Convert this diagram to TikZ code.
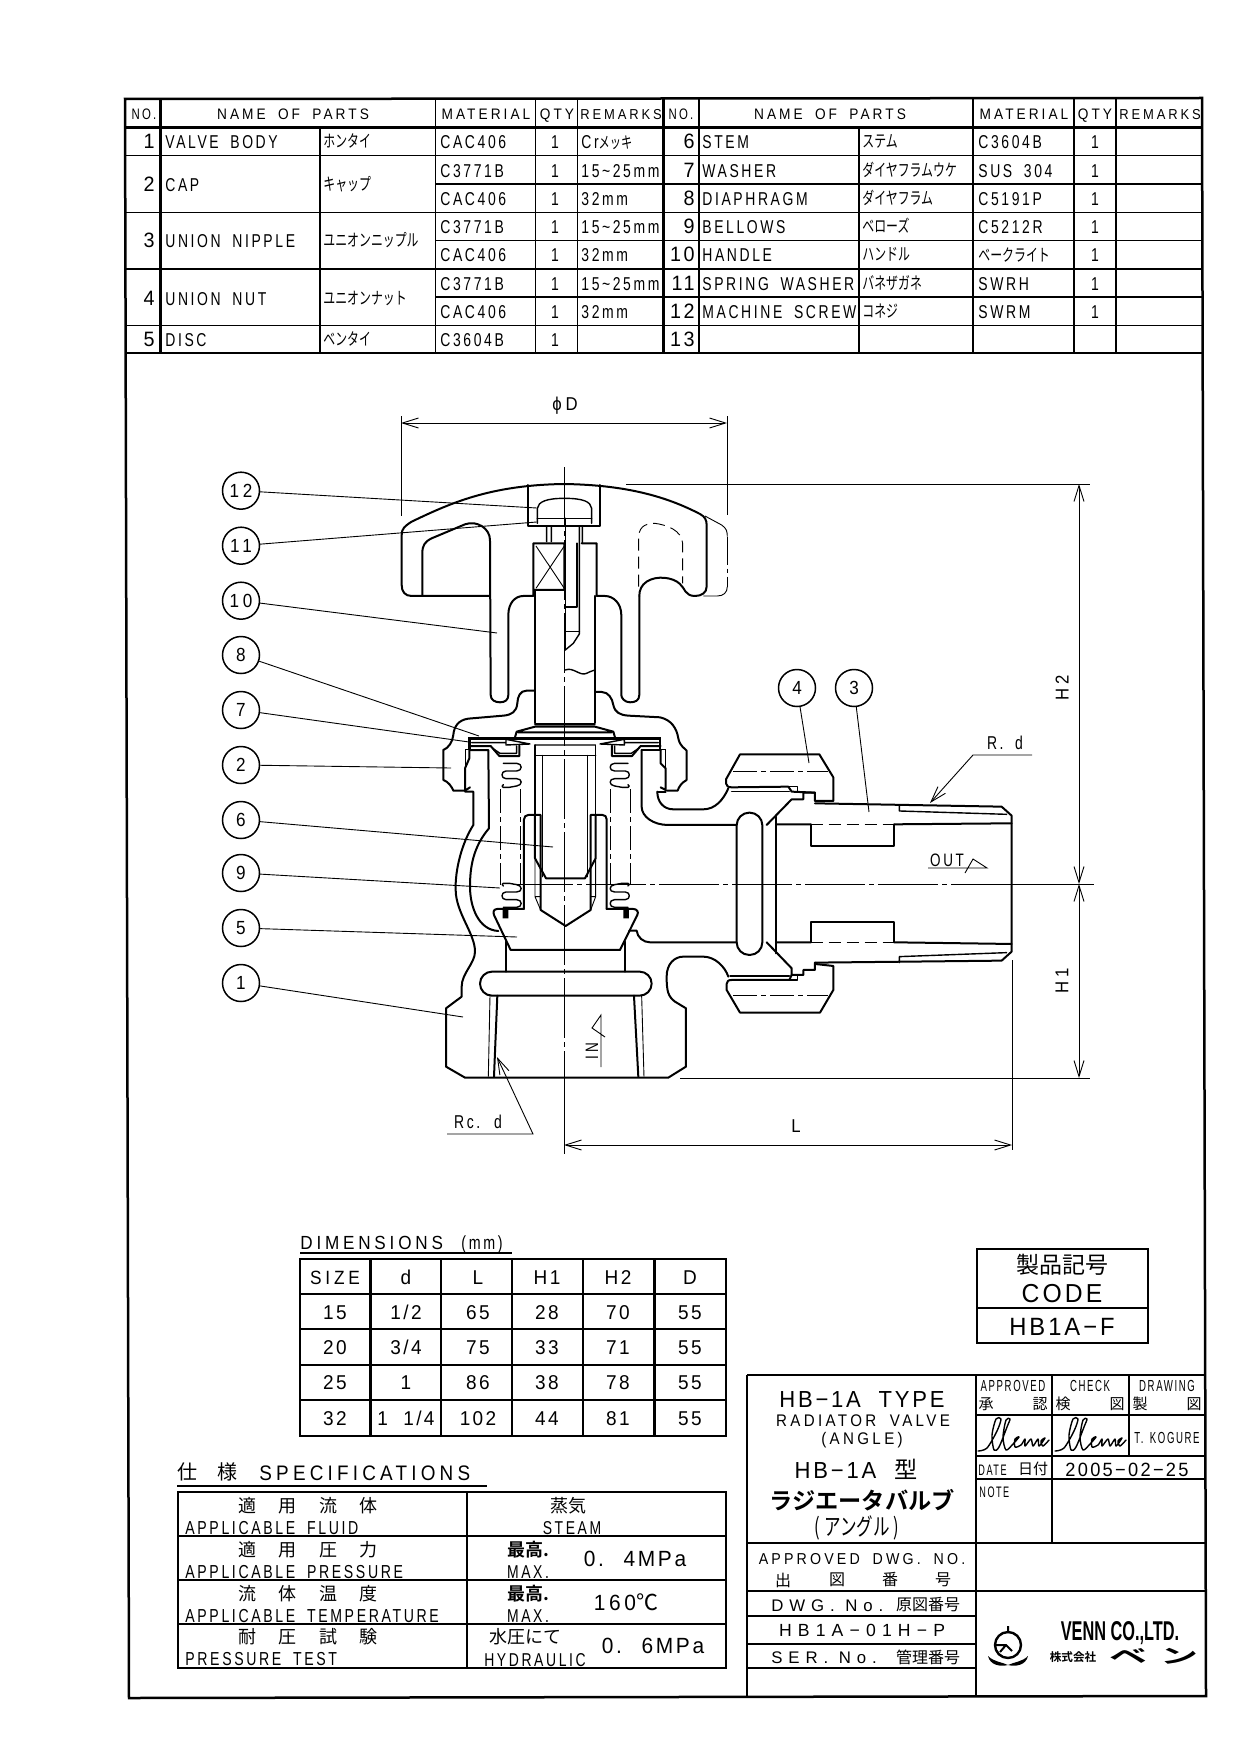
\documentclass[tikz,border=0pt]{standalone}
\usepackage{fontspec}
\usetikzlibrary{arrows.meta}
\setmainfont{Liberation Sans}
\newfontfamily\gt[FakeStretch=0.75,LetterSpace=14,WordSpace=1.8]{Liberation Sans}
\newfontfamily\gtn[FakeStretch=0.6,LetterSpace=10,WordSpace=1.5]{Liberation Sans}
\newfontfamily\gth[FakeStretch=0.9,LetterSpace=20,WordSpace=1.8]{Liberation Sans}
\newfontfamily\gtb[FakeStretch=0.95,LetterSpace=12,WordSpace=2]{Liberation Sans}
\newfontfamily\gtx[LetterSpace=35]{Liberation Sans}
\newfontfamily\gtlogo[FakeStretch=0.6]{Liberation Sans Bold}
\newfontfamily\jp{Noto Sans CJK JP}
\newfontfamily\jpb{Noto Sans CJK JP Bold}
\newfontfamily\jpn[FakeStretch=0.7]{Noto Sans CJK JP}
\newfontfamily\jpw[FakeStretch=1.9]{Noto Sans CJK JP Bold}
\newcommand{\fs}[1]{\fontsize{#1}{#1}\selectfont}
\tikzset{
  hvy/.style={line width=1pt,line cap=round,line join=round},
  mid/.style={line width=0.7pt,line cap=round,line join=round},
  thn/.style={line width=0.45pt},
  ctr/.style={line width=0.45pt,dash pattern=on 30pt off 2pt on 2.5pt off 2pt},
  ctrs/.style={line width=0.45pt,dash pattern=on 12pt off 2pt on 2.5pt off 2pt},
  hid/.style={line width=0.45pt,dash pattern=on 6pt off 3pt},
  tblo/.style={line width=1.25pt},
  tbli/.style={line width=0.7pt},
  dimn/.style={line width=0.45pt,>={Straight Barb[length=8pt,width=5pt]}},
  lbl/.style={inner sep=0pt,anchor=base west,font=\gt\fs{9.3}},
  lblc/.style={inner sep=0pt,anchor=base,font=\gt\fs{9.3}},
  lno/.style={inner sep=0pt,anchor=base east,font=\gtb\fs{10.4}},
  head/.style={inner sep=0pt,anchor=base,font=\gth\fs{7.6}},
  kana/.style={inner sep=0pt,anchor=base west,font=\jpn\fs{8.5}},
  kanji/.style={inner sep=0pt,font=\jp\fs{8}},
  cell/.style={inner sep=0pt,anchor=base,font=\gtb\fs{10}},
  big/.style={inner sep=0pt,anchor=base,font=\gth\fs{8.6}},
  callout/.style={draw,circle,line width=0.75pt,minimum size=18.5pt,inner sep=0pt,font=\gth\fs{9.5}},
  coil/.pic={
    \draw[mid] (0,0) -- (40,0) .. controls (58,0) and (58,23) .. (40,23) -- (8,23)
      .. controls (-8,23) and (-8,46) .. (8,46) -- (40,46) .. controls (58,46) and (58,66) .. (40,68)
      -- (18,72) -- (0,72) .. controls (-5,72) and (-5,66) .. (0,64);
  },
  signat/.pic={
    \draw[mid] plot[smooth] coordinates {(1,34)(10,31)(20,14)(24,2)(19,2)(15,18)(17,33)(22,30)(30,10)(33,2)(29,3)(26,20)(29,33)(36,27)(42,20)(38,22)(38,30)(44,28)(48,22)(48,29)(54,22)(56,29)(61,22)(62,29)(68,21)(64,24)(66,29)(72,23)};
  },
}
\begin{document}
\begin{tikzpicture}[x=0.5pt,y=-0.5pt]
\useasboundingbox (0,0) rectangle (1241,1755);
% frame and parts list
\draw[tblo] (125,99) -- (1202,98) -- (1206,1696) -- (129,1698) -- cycle;
\draw[tblo] (125,127.7) -- (1202,127.7);
\draw[tblo] (125,353) -- (1202,353);
\foreach \x in {160.5,663.7,699} \draw[tblo] (\x,99) -- (\x,353);
\foreach \x in {435.6,535.5,577.6,973,1074,1116} \draw[tbli] (\x,99) -- (\x,353);
\foreach \x in {320,859} \draw[tbli] (\x,127.7) -- (\x,353);
\foreach \y in {155.7,212.3,269,325.7} \draw[tbli] (125,\y) -- (1202,\y);
\foreach \y in {184,240.7,297} {
  \draw[tbli] (435.6,\y) -- (663.7,\y);
  \draw[tbli] (663.7,\y) -- (1202,\y);
}
% headers
\foreach \x/\t [count=\i] in {144/{\gt\fs{7.6}NO.},293/NAME OF PARTS,486/MATERIAL,557/QTY,621/{\fs{7.2}REMARKS},681/{\gt\fs{7.6}NO.},830/NAME OF PARTS,1024/MATERIAL,1095/QTY,1160/{\fs{7.2}REMARKS}}
  \node[head] (hd\i) at (\x,119.5) {\t};
% left half of the list
\foreach \no/\y/\nam/\kn in {1/149/VALVE BODY/ホンタイ,2/192/CAP/キャップ,3/248/UNION NIPPLE/ユニオンニップル,4/305/UNION NUT/ユニオンナット,5/346.7/DISC/ベンタイ} {
  \node[lno] (no\no) at (155,\y) {\no};
  \node[lbl] (nam\no) at (165,\y) {\nam};
  \node[kana] (kn\no) at (323,\y-1) {\kn};
}
\foreach \y/\mat/\qty/\rem [count=\i] in {149/CAC406/1/{Cr\jpn\fs{8}メッキ},177.3/C3771B/1/15\textasciitilde 25mm,205.7/CAC406/1/32mm,234/C3771B/1/15\textasciitilde 25mm,262/CAC406/1/32mm,290.7/C3771B/1/15\textasciitilde 25mm,318.7/CAC406/1/32mm,346.7/C3604B/1/{}} {
  \node[lbl] (mat\i) at (440,\y) {\mat};
  \node[lblc] (qty\i) at (555,\y) {\qty};
  \node[lbl] (rem\i) at (581,\y) {\rem};
}
% right half of the list
\foreach \no/\y/\nam/\kn/\mat [count=\i] in {6/149/STEM/ステム/C3604B,7/177.3/WASHER/ダイヤフラムウケ/SUS 304,8/205.7/DIAPHRAGM/ダイヤフラム/C5191P,9/234/BELLOWS/ベローズ/C5212R,10/262/HANDLE/ハンドル/{\jpn\fs{8.5}ベークライト},11/290.7/SPRING WASHER/バネザガネ/SWRH,12/318.7/MACHINE SCREW/コネジ/SWRM} {
  \node[lno] (no\no) at (695,\y) {\no};
  \node[lbl] (nam\no) at (702,\y) {\nam};
  \node[kana] (kn\no) at (862,\y-1) {\kn};
  \node[lbl] (matr\i) at (978,\y) {\mat};
  \node[lblc] (qtyr\i) at (1095,\y) {1};
}
\node[lno] (no13) at (695,346.7) {13};
% handle and stem
\begin{scope}[shift={(380,440)},scale=0.3333]
\draw[hvy] (330,468) -- (95,468) .. controls (75,468) and (65,455) .. (65,435) -- (65,285) .. controls (65,265) and (75,258) .. (95,245) .. controls (210,190) and (330,135) .. (553,132) .. controls (740,135) and (860,170) .. (960,222) .. controls (975,230) and (980,240) .. (980,255) -- (980,440) .. controls (980,458) and (965,468) .. (945,468) .. controls (915,468) and (915,445) .. (900,432) .. controls (880,412) and (830,405) .. (800,425) .. controls (785,435) and (778,450) .. (778,468);
\draw[hvy] (778,468) -- (778,765) .. controls (778,782) and (765,787) .. (750,787) .. controls (735,787) and (724,775) .. (724,765) -- (724,525) .. controls (724,490) and (700,468) .. (675,468) -- (650,468) -- (650,310) -- (605,310);
\draw[hvy] (127,468) -- (127,340) .. controls (127,315) and (135,305) .. (155,295) -- (255,253) .. controls (290,240) and (330,265) .. (330,300) -- (332,765) .. controls (332,780) and (345,787) .. (360,787) .. controls (375,787) and (385,780) .. (385,765) -- (385,525) .. controls (385,490) and (405,468) .. (430,468) -- (460,468) -- (460,310) -- (553,310) -- (553,450) -- (460,450);
\draw[thn] (468,318) -- (553,445) (553,318) -- (468,445);
\draw[hvy] (466,450) -- (466,848) (645,468) -- (645,848) (590,310) -- (590,500) -- (556,500);
\draw[hvy] (445,135) -- (445,257) -- (660,257) -- (660,135);
\draw[mid] (472,250) -- (472,205) .. controls (475,185) and (500,175) .. (553,175) .. controls (610,175) and (632,185) .. (635,205) -- (635,250);
\draw[mid] (472,236) -- (635,236);
\draw[mid] (500,258) -- (500,305) (514,258) -- (514,305) (598,258) -- (598,575) -- (598,582) -- (580,610) -- (556,630) (607,258) -- (607,310);
\draw[mid] (556,235) -- (556,630) (556,575) -- (598,575);
\draw[mid] (556,690) .. controls (580,680) and (600,710) .. (620,700) .. controls (630,695) and (638,692) .. (645,690);
% ghost of the handle
\draw[thn] (975,228) -- (1025,255) .. controls (1040,265) and (1042,275) .. (1042,290);
\draw[thn,dash pattern=on 14pt off 2pt on 2pt off 2pt] (1042,290) -- (1042,440);
\draw[thn] (1042,440) .. controls (1042,458) and (1030,468) .. (1012,468) -- (970,468);
\draw[hid] (776,440) -- (776,295) .. controls (776,265) and (790,250) .. (825,250) .. controls (860,255) and (905,270) .. (908,310) -- (908,430);
% cap
\draw[hvy] (463,752) -- (440,752) .. controls (420,752) and (413,770) .. (412,790) .. controls (410,815) and (395,825) .. (370,827) -- (265,836) .. controls (235,840) and (222,860) .. (220,885) .. controls (218,905) and (205,925) .. (190,930) -- (190,1020) .. controls (205,1025) and (215,1040) .. (220,1052) -- (252,1052);
\draw[hvy] (648,756) -- (665,756) .. controls (685,756) and (697,775) .. (700,795) .. controls (705,818) and (720,825) .. (745,827) -- (840,832) .. controls (875,840) and (890,865) .. (895,895) .. controls (900,920) and (915,925) .. (920,932) -- (920,1020) .. controls (905,1028) and (897,1040) .. (893,1052) -- (860,1052);
\end{scope}
% body, disc and bellows
\begin{scope}[shift={(420,700)},scale=0.3333]
\draw[hvy] (345,72) -- (525,72) (345,80) -- (525,80) (345,80) -- (290,95) -- (285,112) (525,80) -- (580,95) -- (585,112) (295,97) -- (575,97);
\draw[tbli] (298,113) -- (575,113);
\draw[line width=1.2pt] (148,150) -- (148,115) -- (720,115) -- (720,150);
\draw[mid] (155,128) -- (258,128) (613,128) -- (715,128) (258,118) -- (258,135) -- (330,132) -- (258,118) (613,118) -- (613,135) -- (540,132) -- (613,118) (345,135) -- (525,135);
\draw[hvy] (152,138) -- (212,138) -- (238,168) -- (298,168) -- (298,137);
\draw[mid] (218,145) -- (240,160) -- (290,160) -- (290,138);
\draw[hvy] (722,138) -- (662,138) -- (636,168) -- (576,168) -- (576,137);
\draw[mid] (656,145) -- (634,160) -- (584,160) -- (584,138);
\foreach \x/\y/\sx/\sy in {250/190/1/1,624/190/-1/1,250/622/1/-1,624/622/-1/-1}
  \pic[transform shape,xscale=\sx,yscale=\sy] at (\x,\y) {coil};
\foreach \x in {240,302,570,632} \draw[ctrs] (\x,268) -- (\x,555);
% cap collars
\draw[thn] (135,148) -- (150,148) (135,148) -- (135,205) (722,148) -- (737,148) -- (737,205);
\draw[hvy] (148,150) -- (148,175) -- (135,205) -- (135,272) -- (150,262) (722,150) -- (722,190) -- (737,205) -- (737,270) -- (722,262);
\draw[hvy] (150,150) -- (205,150) -- (207,385) .. controls (160,440) and (150,500) .. (150,560) .. controls (150,620) and (175,690) .. (235,693);
\draw[hvy] (665,150) -- (722,150);
% body outline
\draw[hvy] (135,275) -- (160,275) -- (160,375) .. controls (125,430) and (105,510) .. (107,570) .. controls (108,640) and (165,700) .. (165,755) .. controls (165,790) and (125,820) .. (125,860) -- (125,890) -- (78,925) -- (78,1100) -- (135,1133) -- (745,1133) -- (798,1100) -- (798,925) -- (765,905) .. controls (745,890) and (740,875) .. (740,830) .. controls (740,790) and (765,770) .. (790,770) -- (850,770) .. controls (885,770) and (915,800) .. (925,830);
% valve seat and bore
\draw[hvy,rounded corners=6pt] (180,815) rectangle (695,887);
\draw[hvy] (258,725) -- (258,815) (615,725) -- (615,815);
\draw[thn] (210,887) -- (205,1130) (665,887) -- (672,1130);
\draw[hvy] (232,887) -- (222,1130) (642,887) -- (655,1130);
% stem and disc
\draw[mid] (345,135) -- (345,345) (527,135) -- (527,345) (345,167) -- (527,167);
\draw[mid] (368,167) -- (368,530) (503,167) -- (503,530);
\draw[hvy] (345,345) -- (345,475) -- (378,535) -- (495,535) -- (527,475) -- (527,345);
\draw[hvy] (312,627) -- (312,358) .. controls (312,350) and (318,345) .. (325,345) -- (362,345) -- (362,630) -- (437,678) -- (512,630) -- (512,345) -- (548,345) .. controls (555,345) and (560,350) .. (560,358) -- (560,627);
\draw[thn] (345,480) -- (345,590) -- (362,630) (527,480) -- (527,590) -- (512,630) (345,590) -- (362,590) (527,590) -- (512,590);
\draw[hvy] (312,627) -- (232,627) .. controls (222,627) and (218,635) .. (222,645) -- (272,750) -- (600,750) -- (652,645) .. controls (657,635) and (650,627) .. (640,627) -- (560,627);
\fill (248,628) rectangle (265,655) (610,628) rectangle (627,655);
% elbow
\draw[hvy] (665,150) -- (665,320) .. controls (665,350) and (700,375) .. (745,375) -- (950,375);
\draw[hvy] (712,275) .. controls (712,305) and (730,328) .. (760,328) -- (850,328) .. controls (885,328) and (910,300) .. (925,265);
\draw[hvy] (712,275) -- (737,275);
\draw[hvy] (628,692) -- (650,692) .. controls (652,712) and (670,727) .. (690,727) -- (950,727);
\end{scope}
% union nut and nipple
\begin{scope}[shift={(700,640)},scale=0.3333]
\draw[hvy] (120,343) -- (358,343) -- (400,412) -- (400,483) -- (345,483) (120,343) -- (78,418) -- (78,430) .. controls (78,438) and (85,442) .. (95,442) -- (265,440) -- (275,455) -- (345,458);
\draw[mid] (95,455) -- (268,455) (265,440) -- (292,440) -- (292,455);
\draw[hvy] (345,483) -- (345,458) -- (310,458) -- (310,478) -- (275,478) -- (200,555);
\draw[hvy] (120,1118) -- (360,1118) -- (400,1050) -- (400,978) -- (345,972) (120,1118) -- (80,1050) -- (80,1032) .. controls (80,1024) and (85,1020) .. (95,1020) -- (268,1020) -- (275,1005);
\draw[mid] (90,1008) -- (268,1008) (268,1020) -- (292,1020) -- (292,1005);
\draw[hvy] (200,907) -- (275,985) -- (275,1005) -- (310,1005) -- (310,990) -- (345,990) -- (345,968);
\draw[hvy,rounded corners=6.3pt] (110,518) rectangle (187,945);
\draw[hvy] (228,530) -- (228,940);
\draw[hvy] (345,490) -- (905,500) -- (935,527) -- (935,935) -- (905,962) -- (345,968);
\draw[hvy] (228,553) -- (332,553) (583,553) -- (935,550) (228,907) -- (332,907) (583,907) -- (935,912);
\draw[hid] (332,553) -- (583,553) (332,907) -- (583,907);
\draw[hvy] (332,553) -- (332,617) -- (583,617) -- (583,553) (332,907) -- (332,845) -- (583,845) -- (583,907);
\draw[mid] (598,495) -- (598,513) -- (920,523) (598,968) -- (598,950) -- (920,938);
\draw[ctrs] (100,395) -- (385,395);
\draw[ctrs] (100,1067) -- (385,1067);
\end{scope}
% centre lines
\draw[ctr] (564,467) -- (564,1078);
\draw[thn] (564,1078) -- (564,1154);
\draw[ctr] (513,884) -- (1012,884);
\draw[thn] (1012,884) -- (1094,884);
% dimensions
\draw[thn] (401,416) -- (401,516) (727,416) -- (727,515);
\draw[dimn,<->] (401,423) -- (727,423);
\node[inner sep=0pt,font=\gth\fs{9.3}] (dimD) at (565,406) {ϕD};
\draw[thn] (626,484) -- (1090,484) (680,1078) -- (1090,1078) (1012,960) -- (1012,1150);
\draw[dimn,<->] (1079,484) -- (1079,884);
\draw[dimn,<->] (1079,884) -- (1079,1078);
\draw[dimn,<->] (564,1145) -- (1012,1145);
\node[inner sep=0pt,rotate=90,font=\gth\fs{9.3}] (dimH2) at (1062,688) {H2};
\node[inner sep=0pt,rotate=90,font=\gth\fs{9.3}] (dimH1) at (1062,981) {H1};
\node[inner sep=0pt,font=\gth\fs{9.3}] (dimL) at (796,1126) {L};
\coordinate (rca) at (447,1134);
\coordinate (rcb) at (533,1134);
\coordinate (rcc) at (497,1057);
\draw[dimn,->] (rca) -- (rcb) -- (rcc);
\node[inner sep=0pt,font=\gt\fs{9.3}] (rctext) at (478,1122) {Rc. d};
\coordinate (rda) at (1032,755);
\coordinate (rdb) at (973,755);
\coordinate (rdc) at (930,803);
\draw[dimn,->] (rda) -- (rdb) -- (rdc);
\node[inner sep=0pt,font=\gt\fs{9.3}] (rdtext) at (1005,743) {R. d};
\node[inner sep=0pt,anchor=base,font=\gt\fs{9}] (outtxt) at (947,866) {OUT};
\draw[thn] (928,868) -- (965,868) -- (987,868) -- (973,859) -- (965,873);
\node[inner sep=0pt,rotate=90,anchor=base,font=\gt\fs{9}] (intxt) at (598,1051) {IN};
\draw[thn] (601,1067) -- (601,1015) -- (592,1028) -- (605,1037);
% callouts
\foreach \no/\y/\px/\py in {12/490.7/536.7/508,11/545.7/536.7/522,10/600.7/497/633,8/655/479/736,7/710/469/742,2/765/451/768,6/820/553/847,9/873/500/888,5/928/517/937,1/983/463/1017} {
  \node[callout] (ball\no) at (241,\y) {\no};
  \coordinate (tip\no) at (\px,\py);
  \draw[thn] (ball\no) -- (tip\no);
}
\foreach \no/\x/\px/\py in {4/797/809/763,3/854/869/812} {
  \node[callout] (ball\no) at (\x,688) {\no};
  \coordinate (tip\no) at (\px,\py);
  \draw[thn] (ball\no) -- (tip\no);
}
% dimensions table
\node[inner sep=0pt,anchor=base west,font=\gth\fs{9.5}] (dimtitle) at (300,1249) {DIMENSIONS};
\node[inner sep=0pt,anchor=base,font=\gt\fs{9.5}] (dimunit) at (482,1249) {(mm)};
\draw[tbli] (300,1253) -- (512,1253);
\draw[tblo] (300,1259) rectangle (726,1436);
\foreach \y in {1294,1329,1365,1400} \draw[tblo] (300,\y) -- (726,\y);
\foreach \x in {370.5,441,512,583,654.4} \draw[tblo] (\x,1259) -- (\x,1436);
\foreach \y/\a/\b/\c/\d/\e/\f [count=\i] in {1284/{\gth\fs{9.6}SIZE}/d/L/H1/H2/D,1319/15/{1/2}/65/28/70/55,1354/20/{3/4}/75/33/71/55,1389/25/1/86/38/78/55,1425/32/{1 1/4}/102/44/81/55} {
  \node[cell] (da\i) at (335,\y) {\a};
  \node[cell] (db\i) at (406,\y) {\b};
  \node[cell] (dc\i) at (478,\y) {\c};
  \node[cell] (dd\i) at (547,\y) {\d};
  \node[cell] (de\i) at (618,\y) {\e};
  \node[cell] (df\i) at (690,\y) {\f};
}
% specifications table
\node[kanji,font=\jp\fs{10}] (spa) at (187,1472) {仕};
\node[kanji,font=\jp\fs{10}] (spb) at (227,1472) {様};
\node[inner sep=0pt,anchor=base west,font=\gth\fs{10.5}] (sptitle) at (259,1480) {SPECIFICATIONS};
\draw[tbli] (177,1486) -- (487,1486);
\draw[tblo] (178,1492) rectangle (726,1668);
\draw[tblo] (467,1492) -- (467,1668);
\foreach \y in {1536,1580,1624} \draw[tblo] (178,\y) -- (726,\y);
\foreach \y/\a/\b/\c/\d/\e [count=\i] in {1506/適/用/流/体/APPLICABLE FLUID,1550/適/用/圧/力/APPLICABLE PRESSURE,1594/流/体/温/度/APPLICABLE TEMPERATURE,1637/耐/圧/試/験/PRESSURE TEST} {
  \node[kanji,font=\jp\fs{9}] (spa\i) at (247,\y) {\a};
  \node[kanji,font=\jp\fs{9}] (spb\i) at (287,\y) {\b};
  \node[kanji,font=\jp\fs{9}] (spc\i) at (328,\y) {\c};
  \node[kanji,font=\jp\fs{9}] (spd\i) at (368,\y) {\d};
  \node[lbl,font=\gt\fs{9.4}] (spe\i) at (185,\y+28) {\e};
}
\node[kanji,font=\jp\fs{9}] (fluidjp) at (568,1506) {蒸気};
\node[lblc] (fluiden) at (572,1534) {STEAM};
\foreach \y/\v/\x [count=\i] in {1550/{0. 4MPa}/635,1594/{1\,6\,0\jp ℃}/626} {
  \node[kanji,font=\jpb\fs{9}] (maxjp\i) at (528,\y) {最高.};
  \node[lblc] (maxen\i) at (528,\y+28) {MAX.};
  \node[cell,font=\gtb\fs{11}] (maxval\i) at (\x,\y+16) {\v};
}
\node[kanji,font=\jp\fs{9}] (hydrjp) at (525.5,1637) {水圧にて};
\node[lblc] (hydren) at (535,1666) {HYDRAULIC};
\node[cell,font=\gtb\fs{11}] (hydrval) at (653,1653) {0. 6MPa};
% code box
\draw[tblo] (977,1249) rectangle (1148,1343);
\draw[tblo] (977,1308) -- (1148,1308);
\node[kanji,font=\jp\fs{11.5}] (codejp) at (1062,1265) {製品記号};
\node[inner sep=0pt,anchor=base,font=\gtb\fs{13}] (codeen) at (1062,1302) {CODE};
\node[inner sep=0pt,anchor=base,font=\gtb\fs{12.5}] (codeval) at (1062,1335) {HB1A−F};
% title block
\draw[tblo] (747,1375) -- (1205,1375) (747,1375) -- (747,1697) (976,1375) -- (976,1697);
\draw[tblo] (747,1543) -- (1205,1543) (747,1591) -- (1205,1591);
\draw[tbli] (1052,1375) -- (1052,1543) (1129,1375) -- (1129,1456);
\draw[tbli] (976,1415) -- (1205,1415) (976,1456) -- (1205,1456) (976,1479) -- (1205,1479);
\draw[tbli] (747,1616) -- (976,1616) (747,1668) -- (976,1668);
\draw[tblo] (747,1644) -- (976,1644);
\node[inner sep=0pt,anchor=base,font=\gtb\fs{11.6}] (tta) at (862,1407) {HB−1A TYPE};
\node[big,font=\gth\fs{8.4}] (ttb) at (863,1426) {RADIATOR VALVE};
\node[big,font=\gth\fs{8.4}] (ttc) at (862,1444) {(ANGLE)};
\node[inner sep=0pt,anchor=base,font=\gtb\fs{11.6}] (ttd) at (856,1478) {HB−1A {\jp 型}};
\node[kanji,font=\jpb\fs{11.6}] (tte) at (862,1500) {ラジエータバルブ};
\node[kanji,font=\jpn\fs{11.8}] (ttf) at (857,1528) {(\,アングル\,)};
\node[big,font=\gth\fs{7.9}] (adw) at (862,1564) {APPROVED DWG. NO.};
\foreach \x/\c [count=\i] in {783/出,837/図,890/番,943/号}
  \node[kanji] (adk\i) at (\x,1580) {\c};
\node[inner sep=0pt,anchor=base west,font=\gtx\fs{8.4}] (dwg) at (771,1611) {DWG. No.};
\node[kanji] (dwgk) at (928,1605) {原図番号};
\node[inner sep=0pt,anchor=base,font=\gtx\fs{8.8}] (dwgn) at (862,1636) {HB1A−01H−P};
\node[inner sep=0pt,anchor=base west,font=\gtx\fs{8.4}] (ser) at (771,1663) {SER. No.};
\node[kanji] (serk) at (928,1657) {管理番号};
% approval boxes
\node[lblc,font=\gtn\fs{8}] (appr) at (1013,1391) {APPROVED};
\node[lblc,font=\gtn\fs{8}] (chk) at (1090,1391) {CHECK};
\node[lblc,font=\gtn\fs{8}] (drw) at (1167,1391) {DRAWING};
\foreach \x/\c [count=\i] in {986/承,1040/認,1063/検,1117/図,1140/製,1194/図}
  \node[kanji,font=\jp\fs{7.5}] (apk\i) at (\x,1404) {\c};
\pic at (977,1417) {signat};
\pic at (1054,1417) {signat};
\node[lblc,font=\gtn\fs{8}] (kog) at (1167,1443) {T. KOGURE};
\node[inner sep=0pt,anchor=base west,font=\gtn\fs{7.6}] (date) at (978,1475) {DATE};
\node[kanji,font=\jp\fs{7.5}] (datek) at (1033,1469) {日付};
\node[cell,font=\gtb\fs{9.6}] (dateval) at (1127,1476) {2005−02−25};
\node[inner sep=0pt,anchor=base west,font=\gtn\fs{7.6}] (note) at (979,1497) {NOTE};
% company mark
\draw[line width=1.2pt] (1008,1645) circle (13);
\draw[line width=1pt] (1008,1626) -- (1008,1633) (996,1645) -- (1006,1645) -- (1012,1651) (1006,1645) -- (1000,1652);
\fill (988,1656) .. controls (994,1662) and (1002,1662) .. (1008,1665) .. controls (1000,1667) and (990,1665) .. (988,1656) -- cycle;
\fill (1028,1656) .. controls (1022,1662) and (1014,1662) .. (1008,1665) .. controls (1016,1667) and (1026,1665) .. (1028,1656) -- cycle;
\node[inner sep=0pt,anchor=base,font=\gtlogo\fs{13.6}] (venn) at (1120,1640) {VENN CO.,LTD.};
\node[kanji,font=\jpb\fs{5.8}] (kabu) at (1073,1657) {株式会社};
\node[kanji,font=\jpw\fs{10}] (vena) at (1128,1656) {ベ};
\node[kanji,font=\jpw\fs{10}] (venb) at (1179,1656) {ン};
\end{tikzpicture}
\end{document}
